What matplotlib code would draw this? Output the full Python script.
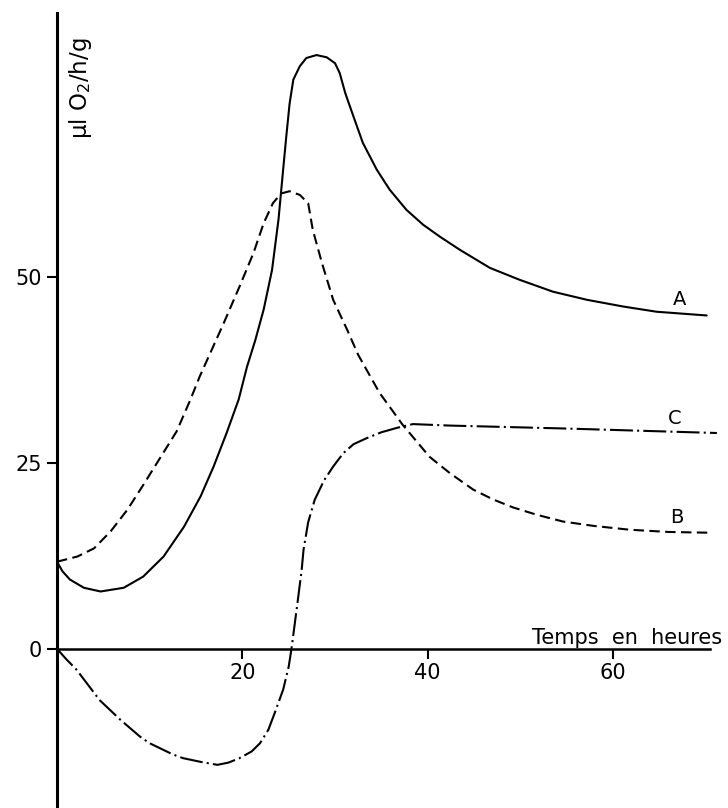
import matplotlib
matplotlib.use("Agg")
import matplotlib.pyplot as plt

plt.rcParams['font.family'] = ['DejaVu Sans']

# Curve A (solid)
a_x = [0.0, 0.6, 1.4, 2.9, 4.7, 7.2, 9.3, 11.5, 13.7, 15.5, 16.9, 18.3, 19.6, 20.5, 21.4,
       22.3, 23.2, 23.9, 24.4, 24.75, 25.1, 25.5, 26.2, 26.9, 28.0, 29.1, 30.0, 30.5, 31.1,
       32.0, 33.0, 34.5, 35.9, 37.7, 39.5, 41.3, 43.5, 46.7, 49.9, 53.5, 57.2, 61.1, 64.7, 70.1]
a_y = [11.7, 10.4, 9.3, 8.2, 7.7, 8.2, 9.7, 12.4, 16.4, 20.5, 24.5, 29.0, 33.5, 37.9, 41.5,
       45.6, 50.9, 57.7, 64.4, 69.0, 73.3, 76.5, 78.3, 79.4, 79.8, 79.5, 78.7, 77.4, 74.7,
       71.5, 68.0, 64.4, 61.7, 59.0, 57.0, 55.4, 53.6, 51.2, 49.6, 48.0, 46.9, 46.0, 45.3, 44.8]

# Curve B (dashed)
b_x = [0.0, 2.2, 4.0, 5.8, 7.6, 9.3, 11.1, 12.9, 14.4, 15.4, 18.0, 19.7, 21.2, 22.3,
       23.3, 24.2, 25.1, 26.2, 27.1, 27.6, 28.6, 29.8, 31.3, 32.5, 34.8, 37.3, 40.2, 42.4,
       44.9, 47.0, 49.2, 51.8, 54.6, 58.0, 61.8, 66.0, 70.4]
b_y = [11.7, 12.4, 13.5, 15.8, 18.7, 22.0, 25.6, 29.2, 33.5, 36.6, 43.8, 48.7, 53.2, 57.2,
       59.9, 61.2, 61.5, 61.0, 59.9, 56.3, 51.8, 46.9, 42.9, 39.5, 34.4, 30.1, 25.8, 23.6,
       21.4, 20.1, 19.0, 18.0, 17.1, 16.5, 16.0, 15.7, 15.6]

# Curve C (dash-dot)
c_x = [0.0, 1.0, 2.1, 4.6, 6.8, 8.95, 10.0, 12.5, 13.6, 15.5, 17.3, 18.5, 19.7, 21.0, 21.9,
       22.8, 23.5, 24.4, 25.0, 25.3, 25.9, 26.4, 26.6, 27.1, 27.8, 28.8, 29.8, 30.9, 32.0,
       33.4, 35.0, 36.7, 38.4, 42.4, 55.0, 71.2]
c_y = [0.0, -1.4, -2.8, -6.9, -9.5, -11.8, -12.7, -14.2, -14.7, -15.2, -15.6, -15.3, -14.7, -13.8, -12.7,
       -10.9, -8.6, -5.5, -2.4, 0.0, 5.7, 10.6, 13.3, 17.0, 20.0, 22.6, 24.5, 26.3, 27.5,
       28.3, 29.1, 29.7, 30.2, 30.0, 29.6, 29.0]

x_ticks = [20, 40, 60]
y_ticks = [0, 25, 50]
y_tick_labels = ['0', '25', '50']
curve_labels = ['A', 'B', 'C']
curve_label_pos = [(67.2, 46.9), (66.9, 17.7), (66.6, 30.9)]

fig = plt.figure(figsize=(7.28, 8.08), dpi=100)
ax = fig.add_axes([0, 0, 1, 1])
ax.set_xlim(-6.15, 72.4)
ax.set_ylim(-21.4, 87.2)

lw = 1.5
ax.plot(a_x, a_y, color='black', lw=lw, solid_capstyle='round', solid_joinstyle='round')
ax.plot(b_x, b_y, color='black', lw=lw, dashes=(5, 2.6))
ax.plot(c_x, c_y, color='black', lw=lw, dashes=(11, 2, 1, 2))

for s in ['top', 'right']:
    ax.spines[s].set_visible(False)
ax.spines['left'].set_position(('data', 0))
ax.spines['left'].set_bounds(-22, 85.5)
ax.spines['left'].set_linewidth(2.2)
ax.spines['bottom'].set_position(('data', 0))
ax.spines['bottom'].set_bounds(0, 70.5)
ax.spines['bottom'].set_linewidth(1.8)

ax.set_xticks(x_ticks)
ax.set_xticklabels([str(t) for t in x_ticks])
ax.set_yticks(y_ticks)
ax.set_yticklabels(y_tick_labels)
ax.tick_params(axis='both', direction='out', length=7, width=1.5, labelsize=15, colors='black')
ax.tick_params(axis='x', pad=3)
ax.tick_params(axis='y', pad=4)

for lab, (lx, ly) in zip(curve_labels, curve_label_pos):
    ax.text(lx, ly, lab, fontsize=14, ha='center', va='center')

ax.text(71.8, 0.6, 'Temps  en  heures', fontsize=15, ha='right', va='baseline')
ax.text(2.5, 75.4, r'μl O$_2$/h/g', fontsize=16.5, rotation=90, ha='center', va='center')

fig.savefig('out.png', dpi=100, facecolor='white')
